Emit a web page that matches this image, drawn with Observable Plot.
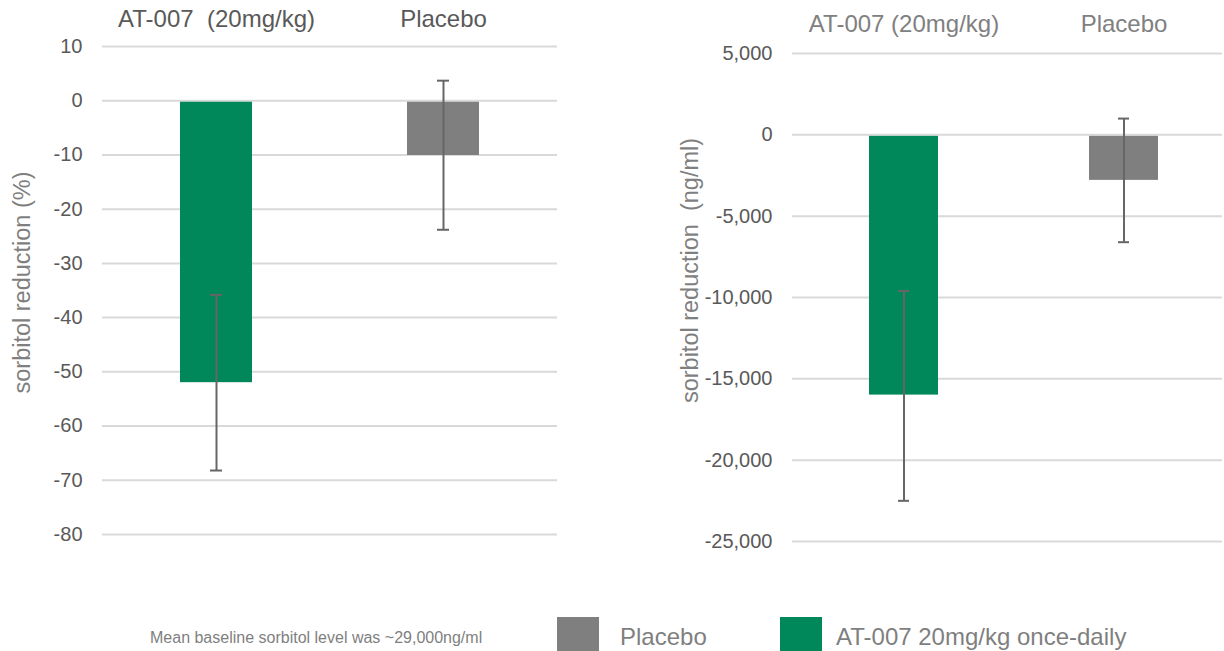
<!DOCTYPE html>
<html>
<head>
<meta charset="utf-8">
<script src="https://cdn.jsdelivr.net/npm/d3@7"></script>
<script src="https://cdn.jsdelivr.net/npm/@observablehq/plot@0.6"></script>
<style>
  html, body { margin: 0; padding: 0; background: #fff; }
  #wrap { position: relative; width: 1224px; height: 651px; overflow: hidden; font-family: "Liberation Sans", Arial, sans-serif; }
  #left, #right { position: absolute; top: 0; }
  #left { left: 0; }
  #right { left: 612px; }
  svg text { white-space: pre; }
  .sw { position: absolute; width: 42px; height: 36px; }
  .lt { position: absolute; font-size: 24px; color: #7f7f7f; line-height: 1; white-space: pre; }
  #caption { position: absolute; left: 150px; top: 630px; font-size: 16px; color: #7f7f7f; line-height: 1; white-space: pre; }
</style>
</head>
<body>
<div id="wrap">
  <div id="left"></div>
  <div id="right"></div>
  <div id="caption"></div>
  <div class="sw" id="sw1" style="left:557px; top:617px;"></div>
  <div class="lt" id="lt1" style="left:620px; top:625px;"></div>
  <div class="sw" id="sw2" style="left:780px; top:617px;"></div>
  <div class="lt" id="lt2" style="left:836px; top:625px;"></div>
</div>
<script>
// ---- data ----
const groups = ["AT-007", "Placebo"];
const labelsPct = ["AT-007  (20mg/kg)", "Placebo"];
const labelsNg = ["AT-007 (20mg/kg)", "Placebo"];
const pctMean = [-52, -10.1];
const pctHigh = [-35.8, 3.7];
const pctLow = [-68.2, -23.8];
const ngMean = [-16000, -2800];
const ngHigh = [-9600, 1000];
const ngLow = [-22500, -6600];
const pctTicks = [10, 0, -10, -20, -30, -40, -50, -60, -70, -80];
const ngTicks = [5000, 0, -5000, -10000, -15000, -20000, -25000];
const colors = ["#00875A", "#7F7F7F"];
const titlePct = "sorbitol reduction (%)";
const titleNg = "sorbitol reduction  (ng/ml)";
const legendLabels = ["Placebo", "AT-007 20mg/kg once-daily"];
const captionText = "Mean baseline sorbitol level was ~29,000ng/ml";

const FONT = "'Liberation Sans', Arial, sans-serif";

function panel({labels, mean, high, low, ticks, title, fmt, width, height, marginLeft, marginRight, marginTop, marginBottom, xRange, inset, labelDy, labelColor, titleDx, titleDy}) {
  const rows = groups.map((g, i) => ({g, label: labels[i], mean: mean[i], high: high[i], low: low[i], color: colors[i]}));
  return Plot.plot({
    width, height, marginLeft, marginRight, marginTop, marginBottom,
    style: {fontFamily: FONT, fontSize: "20px", color: "#595959", background: "transparent"},
    x: {type: "band", domain: groups, range: xRange, paddingInner: 0.685, paddingOuter: 0, axis: null},
    y: {domain: [ticks[ticks.length - 1], ticks[0]], axis: null},
    marks: [
      Plot.ruleY(ticks, {stroke: "#d9d9d9", strokeWidth: 2}),
      Plot.barY(rows, {x: "g", y: "mean", fill: "color", insetTop: 1.5}),
      Plot.ruleX(rows, {x: "g", y1: "low", y2: "high", stroke: "#666666", strokeWidth: 2}),
      Plot.tickY(rows, {x: "g", y: "high", stroke: "#666666", strokeWidth: 2, inset}),
      Plot.tickY(rows, {x: "g", y: "low", stroke: "#666666", strokeWidth: 2, inset}),
      Plot.axisY({ticks, tickSize: 0, tickPadding: 20, tickFormat: fmt, fontSize: 20, fill: "#595959", label: null}),
      Plot.text(rows, {x: "g", text: "label", frameAnchor: "top", dy: labelDy, lineAnchor: "middle", fontSize: 24, fill: labelColor}),
      Plot.text([title], {text: d => d, frameAnchor: "left", rotate: -90, dx: titleDx, dy: titleDy, textAnchor: "middle", lineAnchor: "middle", fontSize: 23.5, fill: "#7f7f7f"})
    ]
  });
}

document.getElementById("left").append(panel({
  labels: labelsPct, mean: pctMean, high: pctHigh, low: pctLow, ticks: pctTicks,
  title: titlePct, fmt: d => String(d),
  width: 612, height: 580, marginLeft: 102, marginRight: 55, marginTop: 46, marginBottom: 46,
  xRange: [180, 479], inset: 30, labelDy: -27, labelColor: "#595959", titleDx: -80, titleDy: -8
}));

document.getElementById("right").append(panel({
  labels: labelsNg, mean: ngMean, high: ngHigh, low: ngLow, ticks: ngTicks,
  title: titleNg, fmt: d => d.toLocaleString("en-US"),
  width: 612, height: 580, marginLeft: 180, marginRight: 2, marginTop: 53, marginBottom: 39,
  xRange: [257, 547], inset: 29, labelDy: -29, labelColor: "#808080", titleDx: -102, titleDy: -27
}));

document.getElementById("caption").textContent = captionText;
document.getElementById("sw1").style.background = colors[1];
document.getElementById("sw2").style.background = colors[0];
document.getElementById("lt1").textContent = legendLabels[0];
document.getElementById("lt2").textContent = legendLabels[1];
</script>
</body>
</html>
